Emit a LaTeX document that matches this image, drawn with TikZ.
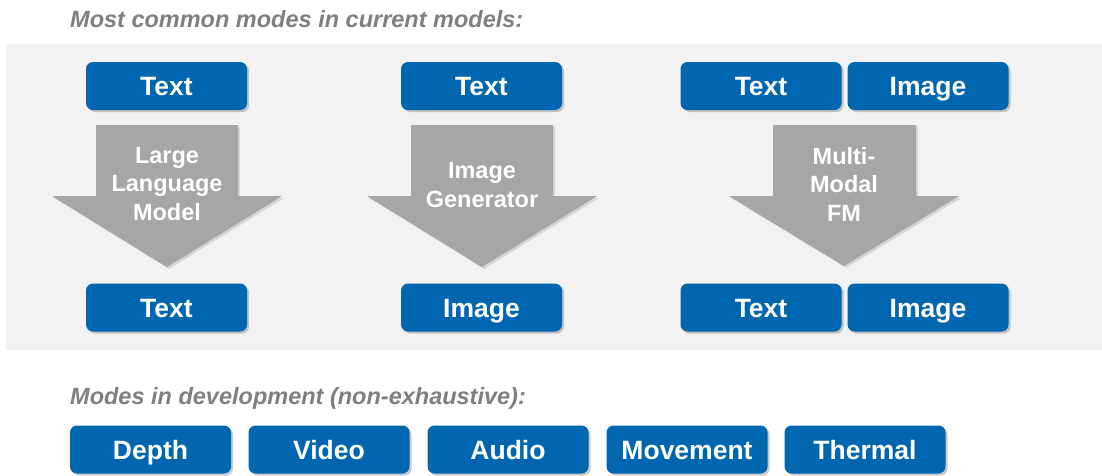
\documentclass[tikz,border=0pt]{standalone}
\usepackage{fontspec}
\setmainfont{Liberation Sans}
\usetikzlibrary{shadows}
\definecolor{boxblue}{RGB}{0,102,176}
\definecolor{arrowgray}{RGB}{166,166,166}
\definecolor{panelgray}{RGB}{242,242,242}
\definecolor{titlegray}{RGB}{127,127,127}
\tikzset{
  modebox/.style={fill=boxblue, rounded corners=7pt, minimum width=161pt, minimum height=48pt,
    inner sep=0pt, text=white, font=\fontsize{26.5}{30}\selectfont\bfseries,
    text height=19pt, text depth=0pt,
    drop shadow={shadow xshift=2pt, shadow yshift=-2pt, opacity=0.35, fill=black!60}},
  bigarrow/.style={fill=arrowgray, drop shadow={shadow xshift=2pt, shadow yshift=-2pt, opacity=0.25, fill=black!50}},
  arrowtext/.style={text=white, align=center, font=\fontsize{23.5}{28.5}\selectfont\bfseries},
  heading/.style={anchor=west, text=titlegray, inner sep=0pt, font=\fontsize{23.5}{26}\selectfont\bfseries\itshape}
}
\begin{document}
\begin{tikzpicture}[x=1pt,y=-1pt]
\useasboundingbox (0,0) rectangle (1102,475);
\fill[panelgray] (6,44) rectangle (1102,350);
\node[heading] (h1) at (70,19) {Most common modes in current models:};
% top row
\node[modebox] (t1) at (166.5,86) {Text};
\node[modebox] (t2) at (481.5,86) {Text};
\node[modebox] (t3) at (761,86) {Text};
\node[modebox] (t4) at (928,86) {Image};
% arrows
\path[bigarrow] (96,125) -- (238,125) -- (238,196) -- (282,196) -- (167,267) -- (52,196) -- (96,196) -- cycle;
\path[bigarrow] (411,125) -- (553,125) -- (553,196) -- (597,196) -- (482,267) -- (367,196) -- (411,196) -- cycle;
\path[bigarrow] (773,125) -- (916,125) -- (916,196) -- (959,196) -- (844,266) -- (729,196) -- (773,196) -- cycle;
\node[arrowtext] (a1) at (167,184) {Large\\Language\\Model};
\node[arrowtext] (a2) at (482,185) {Image\\Generator};
\node[arrowtext] (a3) at (844,184) {Multi-\\Modal\\FM};
% bottom row
\node[modebox] (b1) at (166.5,307.5) {Text};
\node[modebox] (b2) at (481.5,307.5) {Image};
\node[modebox] (b3) at (761,307.5) {Text};
\node[modebox] (b4) at (928,307.5) {Image};
% development
\node[heading] (h2) at (70,398) {Modes in development (non-exhaustive):};
\node[modebox] (d1) at (150.5,449.5) {Depth};
\node[modebox] (d2) at (329,449.5) {Video};
\node[modebox] (d3) at (508,449.5) {Audio};
\node[modebox] (d4) at (687,449.5) {Movement};
\node[modebox] (d5) at (865,449.5) {Thermal};
\end{tikzpicture}
\end{document}
